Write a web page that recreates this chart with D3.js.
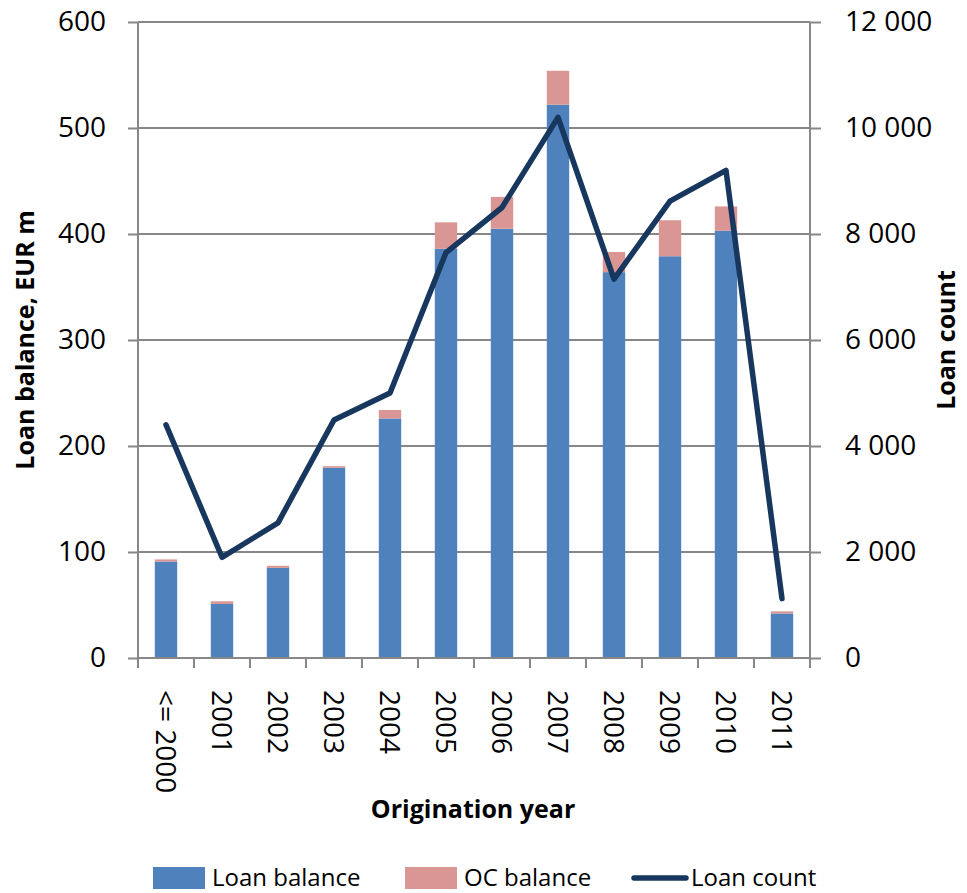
<!DOCTYPE html>
<html>
<head>
<meta charset="utf-8">
<script src="https://cdn.jsdelivr.net/npm/d3@7"></script>
<style>
  html, body { margin: 0; padding: 0; background: #fff; }
  svg { display: block; }
  text { font-family: "Open Sans", "Noto Sans", sans-serif; fill: #000; }
</style>
</head>
<body>
<svg id="chart" width="967" height="893"></svg>
<script>
// Origination year categories
const years = ["<= 2000", "2001", "2002", "2003", "2004", "2005", "2006", "2007", "2008", "2009", "2010", "2011"];
// Loan balance by origination year, EUR m
const loanBalance = [91, 51, 85, 179.5, 226, 386, 405, 522, 364, 379, 403, 42];
// Over-collateralisation balance stacked on top, EUR m
const ocBalance = [2, 2.5, 2, 1.5, 8, 25, 30, 32, 19, 34, 23, 2];
// Number of loans (right axis)
const loanCount = [4400, 1900, 2550, 4490, 5000, 7650, 8500, 10200, 7150, 8620, 9200, 1120];

const leftTicks = [0, 100, 200, 300, 400, 500, 600];
const rightTicks = [0, 2000, 4000, 6000, 8000, 10000, 12000];

const svg = d3.select("#chart");
const plot = { left: 138, right: 810, top: 22, bottom: 658 };
const gridColor = "#878787";
const fontSize = 28;

const x = d3.scaleBand().domain(years)
  .range([plot.left, plot.right])
  .paddingInner(0.6).paddingOuter(0.3);
const yL = d3.scaleLinear().domain([0, 600]).range([plot.bottom, plot.top]);
const yR = d3.scaleLinear().domain([0, 12000]).range([plot.bottom, plot.top]);

// horizontal gridlines
svg.append("g").selectAll("line").data(leftTicks.slice(1)).join("line")
  .attr("x1", plot.left).attr("x2", plot.right)
  .attr("y1", d => yL(d)).attr("y2", d => yL(d))
  .attr("stroke", gridColor).attr("stroke-width", 2);

// stacked bars
const stackData = years.map((y, i) => ({ year: y, loan: loanBalance[i], oc: ocBalance[i] }));
const series = d3.stack().keys(["loan", "oc"])(stackData);
const colors = { loan: "#4F81BD", oc: "#DA9694" };
svg.append("g").selectAll("g").data(series).join("g")
  .attr("fill", d => colors[d.key])
  .selectAll("rect").data(d => d).join("rect")
  .attr("x", d => x(d.data.year))
  .attr("width", x.bandwidth())
  .attr("y", d => yL(d[1]))
  .attr("height", d => yL(d[0]) - yL(d[1]));

// axes
const leftAxis = d3.axisLeft(yL).tickValues(leftTicks).tickSize(10).tickPadding(22);
const rightAxis = d3.axisRight(yR).tickValues(rightTicks).tickSize(11).tickPadding(24)
  .tickFormat(d => d3.format(",")(d).replace(/,/g, " "));

function styleAxis(g) {
  g.select(".domain").attr("stroke", gridColor).attr("stroke-width", 2);
  g.selectAll(".tick line").attr("stroke", gridColor).attr("stroke-width", 2);
  g.selectAll(".tick text").attr("font-size", fontSize).attr("fill", "#000");
}

svg.append("g").attr("transform", `translate(${plot.left},0)`).call(leftAxis)
  .call(g => g.select(".domain").attr("d", `M0,${plot.top}V${plot.bottom}`))
  .call(styleAxis);
svg.append("g").attr("transform", `translate(${plot.right},0)`).call(rightAxis)
  .call(g => g.select(".domain").attr("d", `M0,${plot.top}V${plot.bottom}`))
  .call(styleAxis);

// bottom axis: ticks on category boundaries
const xAxisG = svg.append("g").attr("transform", `translate(0,${plot.bottom})`);
xAxisG.append("line").attr("x1", plot.left).attr("x2", plot.right)
  .attr("stroke", gridColor).attr("stroke-width", 2);
const boundaries = d3.range(years.length + 1).map(i => plot.left + i * x.step());
xAxisG.selectAll("line.tk").data(boundaries).join("line").attr("class", "tk")
  .attr("x1", d => d).attr("x2", d => d).attr("y1", 0).attr("y2", 10)
  .attr("stroke", gridColor).attr("stroke-width", 2);
xAxisG.selectAll("text").data(years).join("text")
  .attr("transform", d => `translate(${x(d) + x.bandwidth() / 2},${32}) rotate(90)`)
  .attr("text-anchor", "start").attr("dy", "0.36em")
  .attr("font-size", fontSize).text(d => d);

// loan count line
const line = d3.line()
  .x((d, i) => x(years[i]) + x.bandwidth() / 2)
  .y(d => yR(d));
svg.append("path").datum(loanCount)
  .attr("d", line).attr("fill", "none")
  .attr("stroke", "#17375E").attr("stroke-width", 5.5)
  .attr("stroke-linejoin", "round").attr("stroke-linecap", "round");

// axis titles
svg.append("text").attr("transform", `translate(34,${(plot.top + plot.bottom) / 2}) rotate(-90)`)
  .attr("text-anchor", "middle").attr("font-size", 25).attr("font-weight", "bold")
  .text("Loan balance, EUR m");
svg.append("text").attr("transform", `translate(955,${(plot.top + plot.bottom) / 2}) rotate(-90)`)
  .attr("text-anchor", "middle").attr("font-size", 25).attr("font-weight", "bold")
  .text("Loan count");
svg.append("text").attr("x", 473).attr("y", 818)
  .attr("text-anchor", "middle").attr("font-size", 25).attr("font-weight", "bold")
  .text("Origination year");

// legend
const legend = svg.append("g");
const legendItems = [
  { label: "Loan balance", type: "rect", color: colors.loan, x: 153 },
  { label: "OC balance", type: "rect", color: colors.oc, x: 405 },
  { label: "Loan count", type: "line", color: "#17375E", x: 632 }
];
legendItems.forEach(it => {
  if (it.type === "rect") {
    legend.append("rect").attr("x", it.x).attr("y", 867).attr("width", 52).attr("height", 22).attr("fill", it.color);
  } else {
    legend.append("line").attr("x1", it.x + 2).attr("x2", it.x + 54).attr("y1", 878).attr("y2", 878)
      .attr("stroke", it.color).attr("stroke-width", 5.5).attr("stroke-linecap", "round");
  }
  legend.append("text").attr("x", it.x + 59).attr("y", 886).attr("font-size", 24).text(it.label);
});
</script>
</body>
</html>
